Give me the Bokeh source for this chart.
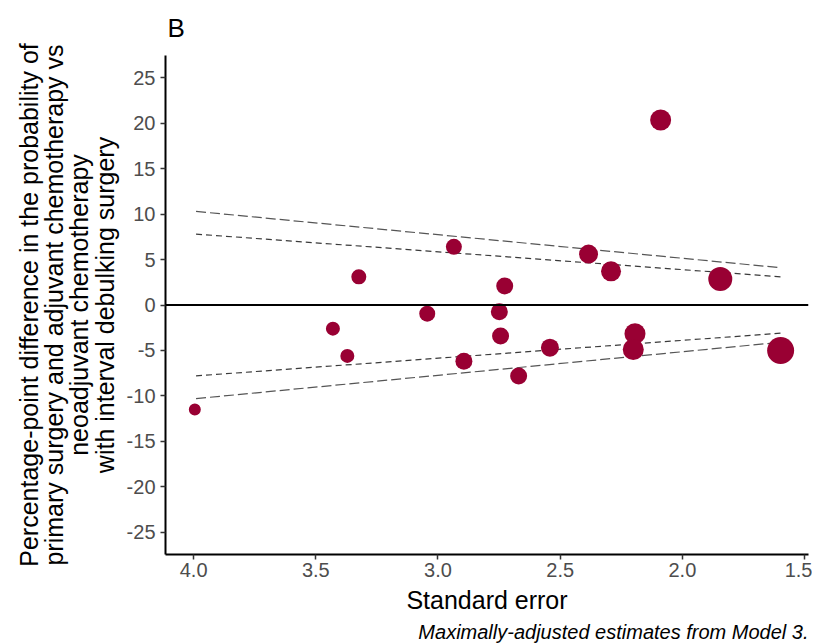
from bokeh.plotting import figure
from bokeh.models import Range1d, Span, Title, FixedTicker, PrintfTickFormatter, ColumnDataSource
from bokeh.embed import file_html
from bokeh.resources import INLINE

# ---- data ----
std_error = [3.995, 3.43, 3.371, 3.324, 2.935, 2.727, 3.044, 2.749, 2.744, 2.894,
             2.670, 2.542, 2.194, 2.201, 1.598, 2.384, 2.292, 1.845, 2.089]
pp_diff = [-11.5, -2.6, -5.6, 3.1, 6.4, 2.1, -0.95, -0.75, -3.4, -6.2,
           -7.8, -4.7, -3.15, -4.9, -5.0, 5.6, 3.7, 2.85, 20.35]
weight = [12, 14, 14, 15, 16, 17, 16, 17, 17, 17,
          17, 18, 21, 21, 27, 19, 20, 24, 21]

funnel_se = [3.99, 1.598]
outer_upper = [10.3, 4.1]
outer_lower = [-10.3, -4.1]
inner_upper = [7.8, 3.1]
inner_lower = [-7.8, -3.1]

x_ticks = [4.0, 3.5, 3.0, 2.5, 2.0, 1.5]
y_ticks = [-25, -20, -15, -10, -5, 0, 5, 10, 15, 20, 25]

FONT = "Liberation Sans"

p = figure(width=812, height=644, output_backend="svg", toolbar_location=None,
           x_range=Range1d(4.115, 1.484), y_range=Range1d(-27.45, 27.45),
           min_border_left=165, min_border_right=4, min_border_top=55, min_border_bottom=90)

p.title.text = "B"
p.title.text_font = FONT
p.title.text_font_size = "26px"
p.title.text_font_style = "normal"
p.title.text_color = "black"
p.title.standoff = 22
p.title.offset = 2
p.title.vertical_align = "top"

p.outline_line_color = None
p.xgrid.visible = False
p.ygrid.visible = False
p.background_fill_color = "white"
p.border_fill_color = "white"

# funnel lines
p.line(funnel_se, outer_upper, line_color="#555555", line_width=1.2, line_dash="10 4")
p.line(funnel_se, outer_lower, line_color="#555555", line_width=1.2, line_dash="10 4")
p.line(funnel_se, inner_upper, line_color="#3a3a3a", line_width=1.2, line_dash="6 4")
p.line(funnel_se, inner_lower, line_color="#3a3a3a", line_width=1.2, line_dash="6 4")

p.add_layout(Span(location=0, dimension="width", line_color="black", line_width=2))

src = ColumnDataSource(dict(x=std_error, y=pp_diff, s=weight))
p.scatter("x", "y", size="s", source=src, fill_color="#990033", line_color=None)

for ax in (p.xaxis[0], p.yaxis[0]):
    ax.axis_line_color = "black"
    ax.axis_line_width = 2
    ax.major_tick_line_color = "#333333"
    ax.major_tick_line_width = 1.5
    ax.major_tick_out = 5
    ax.major_tick_in = 0
    ax.minor_tick_line_color = None
    ax.major_label_text_font = FONT
    ax.major_label_text_font_size = "20px"
    ax.major_label_text_color = "#4D4D4D"
    ax.axis_label_text_font = FONT
    ax.axis_label_text_font_size = "25px"
    ax.axis_label_text_font_style = "normal"
    ax.axis_label_text_color = "black"

p.xaxis.ticker = FixedTicker(ticks=x_ticks)
p.xaxis.formatter = PrintfTickFormatter(format="%.1f")
p.yaxis.ticker = FixedTicker(ticks=y_ticks)
p.yaxis.formatter = PrintfTickFormatter(format="%d")
p.xaxis.major_label_standoff = 3
p.yaxis.major_label_standoff = 5
p.xaxis.axis_label = "Standard error"
p.xaxis.axis_label_standoff = 6
p.yaxis.axis_label = ("Percentage-point difference in the probability of\n"
                      "primary surgery and adjuvant chemotherapy vs\n"
                      "neoadjuvant chemotherapy\n"
                      "with interval debulking surgery")
p.yaxis.axis_label_standoff = 5
p.yaxis.axis_label_text_line_height = 0.9
p.yaxis.axis_label_text_align = "center"

p.add_layout(Title(text="Maximally-adjusted estimates from Model 3.", align="right",
                   text_font=FONT, text_font_size="20px", text_font_style="italic",
                   text_color="black", standoff=4), "below")

open("out.html", "w").write(file_html(p, INLINE))
